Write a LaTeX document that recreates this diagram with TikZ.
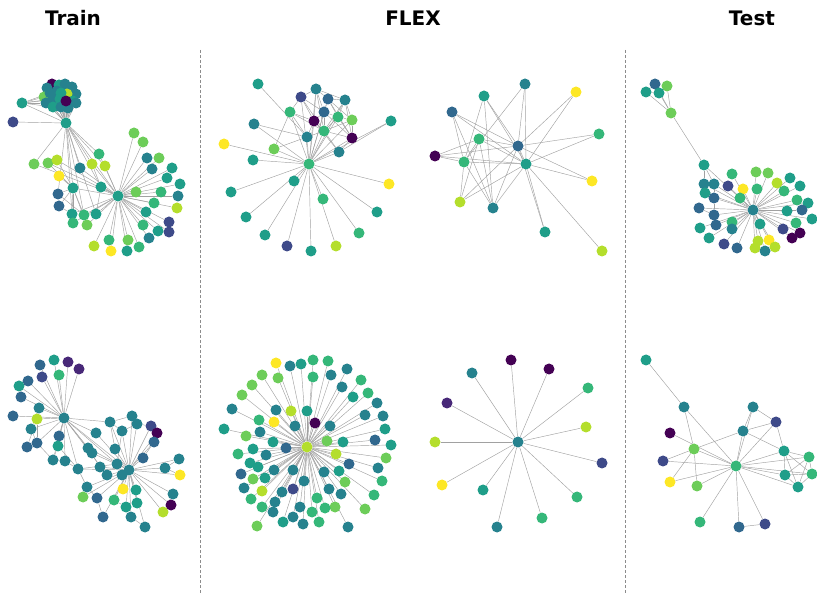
\documentclass[tikz,border=0pt]{standalone}
\usepackage{fontspec}
\setsansfont{DejaVu Sans}
\usepackage{tikz}
\usetikzlibrary{backgrounds}

%% viridis shades
\definecolor{vir0}{HTML}{440154}
\definecolor{vir1}{HTML}{482878}
\definecolor{vir2}{HTML}{3E4A89}
\definecolor{vir3}{HTML}{31688E}
\definecolor{vir4}{HTML}{26828E}
\definecolor{vir5}{HTML}{1F9E89}
\definecolor{vir6}{HTML}{35B779}
\definecolor{vir7}{HTML}{6DCD59}
\definecolor{vir8}{HTML}{B4DE2C}
\definecolor{vir9}{HTML}{FDE725}

\tikzset{
  gnode/.style={circle, fill=vir#1, draw=none,
                inner sep=0pt, minimum size=11pt},
  gedge/.style={draw=black!37, line width=0.45pt},
  title/.style={font=\sffamily\bfseries\fontsize{20}{24}\selectfont},
  divider/.style={draw=black!45, line width=0.8pt,
                  dash pattern=on 3pt off 2pt},
}

\begin{document}
\begin{tikzpicture}[x=1pt, y=-1pt]
    \useasboundingbox (0,0) rectangle (817,593);

    %% titles
    \node[title] (ttrain) at (73,18) {Train};
    \node[title] (tflex)  at (413,18) {FLEX};
    \node[title] (ttest)  at (752,18) {Test};

    %% dividers
    \draw[divider] (200,50) -- (200,593);
    \draw[divider] (625,50) -- (625,593);

    %% ---------- Train, top ----------
    \foreach \n/\x/\y/\c in {1/66/123/5, 2/118/196/5, 3/22/103/5, 4/13/122/2,
        5/52/84/0, 6/47/88/4, 7/59/85/5, 8/65/84/4, 9/72/87/4, 10/76/94/4,
        11/44/97/7, 12/67/94/8, 13/50/93/4, 14/57/91/4, 15/61/93/5,
        16/73/101/5, 17/46/103/4, 18/53/99/4, 19/60/99/5, 62/53/107/5,
        63/61/107/4, 64/68/108/4, 65/76/103/4, 66/66/101/0,
        20/134/133/7, 21/143/142/7, 22/99/154/6, 23/147/158/4, 24/159/158/7,
        25/172/168/5, 26/34/164/7, 27/48/163/7, 28/57/160/8, 29/92/164/8,
        30/105/166/8, 31/80/168/4, 32/152/169/4, 33/167/178/5, 34/180/184/5,
        35/59/176/9, 36/73/188/5, 37/101/187/5, 38/136/192/7, 39/161/192/6,
        40/178/196/4, 41/58/194/3, 42/59/206/3, 43/154/203/6, 44/177/208/8,
        45/72/214/5, 46/84/215/6, 47/96/214/5, 48/146/212/5, 49/73/223/6,
        50/87/225/7, 51/169/222/2, 52/143/225/6, 53/158/231/5, 54/169/232/2,
        55/149/238/4, 56/94/246/8, 57/109/240/6, 58/128/240/7, 59/111/251/9,
        60/127/251/5, 61/139/247/6}
      \node[gnode=\c] (trainT-\n) at (\x,\y) {};
    \begin{scope}[on background layer]
      \foreach \i in {5,...,19,62,63,64,65,66,2,3,4,26,22,29,30,31,36,37,41,45,46,47}
        \draw[gedge] (trainT-1) -- (trainT-\i);
      \foreach \i in {20,...,34,36,37,38,39,40,43,44,45,...,61}
        \draw[gedge] (trainT-2) -- (trainT-\i);
      \foreach \u/\w in {5/7, 6/8, 9/13, 10/14, 15/18, 19/12, 11/17, 5/16,
          7/15, 8/9, 3/11, 3/13, 3/17, 3/18, 3/62, 3/19, 6/16, 12/15, 9/18,
          62/65, 63/10, 64/6,
          36/41, 36/42, 36/45, 36/49, 36/50, 36/35, 36/28, 36/27, 36/46,
          37/29, 37/47, 41/46, 42/45}
        \draw[gedge] (trainT-\u) -- (trainT-\w);
    \end{scope}

    %% ---------- FLEX, top left ----------
    \foreach \n/\x/\y/\c in {1/309/164/6, 2/258/84/5, 3/316/89/4, 4/301/97/2,
        5/328/99/3, 6/345/100/4, 7/290/112/6, 8/324/112/3, 9/338/117/6,
        10/352/120/7, 11/314/121/0, 12/391/121/5, 13/254/124/4, 14/324/131/6,
        15/352/138/0, 16/307/137/4, 17/224/144/9, 18/274/149/7, 19/339/152/4,
        20/253/160/5, 21/294/181/5, 22/389/184/9, 23/231/192/5, 24/323/199/6,
        25/377/212/5, 26/246/217/5, 27/359/233/6, 28/265/235/5, 29/287/246/2,
        30/311/251/5, 31/336/246/8}
      \node[gnode=\c] (flexT-\n) at (\x,\y) {};
    \begin{scope}[on background layer]
      \foreach \i in {3,...,31}
        \draw[gedge] (flexT-1) -- (flexT-\i);
      \foreach \u/\w in {3/4, 3/5, 3/6, 3/8, 3/11, 4/7, 4/8, 4/11, 4/14,
          5/6, 5/8, 5/9, 5/10, 6/9, 6/10, 6/14, 7/11, 7/14, 7/16, 8/9, 8/11,
          8/14, 8/15, 9/10, 9/14, 9/15, 10/14, 10/15, 11/14, 11/16, 11/19,
          14/15, 14/16, 14/19, 15/19, 5/15, 6/15, 3/14, 7/18, 18/16, 13/16,
          12/19, 2/16}
        \draw[gedge] (flexT-\u) -- (flexT-\w);
    \end{scope}

    %% ---------- FLEX, top right ----------
    \foreach \n/\x/\y/\c in {1/526/164/5, 2/518/146/3, 3/525/84/4, 4/484/96/5,
        5/576/92/9, 6/452/112/3, 7/599/134/6, 8/479/139/6, 9/435/156/0,
        10/464/162/6, 11/592/181/9, 12/460/202/8, 13/493/208/4, 14/545/232/5,
        15/602/251/8}
      \node[gnode=\c] (flexS-\n) at (\x,\y) {};
    \begin{scope}[on background layer]
      \foreach \u/\w in {3/2, 3/1, 3/10, 4/2, 4/1, 4/10, 4/13, 5/2, 5/1,
          6/2, 6/1, 6/10, 6/13, 7/2, 7/1, 8/9, 8/1, 8/2, 8/12, 8/13, 8/10,
          9/2, 9/1, 9/10, 10/1, 10/12, 10/13, 1/11, 1/12, 1/13, 1/14, 1/15,
          2/11, 2/12, 2/13, 2/14, 1/2}
        \draw[gedge] (flexS-\u) -- (flexS-\w);
    \end{scope}

    %% ---------- Test, top ----------
    \foreach \n/\x/\y/\c in {1/753/210/4, 2/655/84/3, 3/667/86/7, 4/646/92/5,
        5/659/93/5, 6/671/113/7, 7/704/165/5, 8/732/174/6, 9/756/172/7,
        10/768/173/7, 11/790/178/5, 12/704/184/4, 13/714/184/4, 14/728/186/2,
        15/777/183/8, 16/800/186/5, 17/743/189/9, 18/757/189/6, 19/784/191/6,
        20/705/193/5, 21/740/198/6, 22/714/198/3, 23/797/200/6, 24/808/203/5,
        25/699/208/3, 26/787/211/5, 27/802/210/3, 28/812/219/5, 29/714/215/3,
        30/732/222/6, 31/760/224/5, 32/716/225/3, 33/796/223/6, 34/700/228/5,
        35/732/229/4, 36/783/229/2, 37/800/233/0, 38/792/238/0, 39/709/238/5,
        40/758/241/8, 41/769/240/9, 42/775/247/8, 43/755/248/8, 44/765/251/4,
        45/724/244/2, 46/737/248/3}
      \node[gnode=\c] (testT-\n) at (\x,\y) {};
    \begin{scope}[on background layer]
      \foreach \i in {7,...,46}
        \draw[gedge] (testT-1) -- (testT-\i);
      \foreach \u/\w in {2/3, 2/4, 2/5, 3/5, 4/5, 2/6, 3/6, 4/6, 5/6, 6/7,
          7/12, 7/13, 12/13, 12/20, 12/22, 13/22, 22/29, 25/29}
        \draw[gedge] (testT-\u) -- (testT-\w);
    \end{scope}

    %% ---------- Train, bottom ----------
    \foreach \n/\x/\y/\c in {1/64/418/4, 2/129/470/4, 3/54/360/5, 4/68/362/1,
        5/40/365/3, 6/79/369/1, 7/59/375/6, 8/42/377/2, 9/28/381/3,
        10/19/386/5, 11/21/397/3, 12/39/408/4, 13/13/416/3, 14/37/419/8,
        15/132/416/4, 16/110/422/4, 17/137/424/4, 18/151/426/2, 19/157/433/0,
        20/31/429/4, 21/122/431/4, 22/96/433/4, 23/59/436/3, 24/154/442/3,
        25/37/443/3, 26/27/447/3, 27/58/446/5, 28/88/448/4, 29/92/453/4,
        30/115/449/4, 31/143/458/3, 32/179/459/4, 33/53/460/4, 34/65/461/4,
        35/117/464/4, 36/78/469/4, 37/100/467/4, 38/165/468/4, 39/107/475/4,
        40/122/475/4, 41/180/475/9, 42/87/487/4, 43/123/489/9, 44/136/490/5,
        45/173/494/4, 46/83/497/7, 47/97/498/3, 48/114/500/6, 49/137/503/5,
        50/171/505/0, 51/126/507/5, 52/163/512/8, 53/103/517/3, 54/131/517/4,
        55/145/527/4}
      \node[gnode=\c] (trainB-\n) at (\x,\y) {};
    \begin{scope}[on background layer]
      \foreach \i in {3,...,14,20,22,23,25,27,28,29,16,36,33,34,2,35,39}
        \draw[gedge] (trainB-1) -- (trainB-\i);
      \foreach \i in {15,...,19,21,22,24,28,29,30,31,32,35,36,...,55}
        \draw[gedge] (trainB-2) -- (trainB-\i);
      \foreach \u/\w in {12/20, 12/14, 14/25, 20/25, 23/27, 27/33, 25/33,
          26/14, 15/16, 16/21, 17/18, 18/19, 17/21, 21/35, 24/31, 32/38,
          38/41, 36/42, 42/46, 42/47, 47/53, 48/51, 51/54, 54/55, 45/50,
          45/52, 36/35, 33/34, 34/36, 28/37, 27/36, 16/30, 19/24}
        \draw[gedge] (trainB-\u) -- (trainB-\w);
    \end{scope}

    %% ---------- FLEX, bottom left ----------
    \foreach \n/\x/\y/\c in {1/307/447/8, 2/276/363/9, 3/290/366/4,
        4/301/364/5, 5/313/360/6, 6/328/361/6, 7/262/375/7, 8/278/378/7,
        9/313/377/6, 10/331/375/4, 11/347/369/4, 12/252/385/7, 13/342/387/4,
        14/361/380/6, 15/242/395/7, 16/353/397/5, 17/368/393/6, 18/232/409/4,
        19/276/410/4, 20/291/411/8, 21/307/411/5, 22/377/403/4, 23/259/420/6,
        24/274/422/9, 25/315/423/0, 26/365/415/4, 27/383/416/4, 28/224/429/5,
        29/295/426/4, 30/330/426/4, 31/385/429/5, 32/246/436/7, 33/260/432/4,
        34/273/442/5, 35/327/441/7, 36/343/442/5, 37/375/440/3, 38/391/445/5,
        39/253/449/5, 40/286/448/3, 41/238/454/6, 42/266/455/4, 43/336/454/8,
        44/386/458/7, 45/250/463/5, 46/258/467/5, 47/349/464/3, 48/241/474/3,
        49/274/470/4, 50/293/470/4, 51/324/472/4, 52/339/471/5, 53/378/468/4,
        54/253/479/7, 55/265/478/5, 56/304/481/4, 57/345/482/7, 58/382/481/6,
        59/244/488/4, 60/262/491/8, 61/282/492/4, 62/293/489/2, 63/329/489/4,
        64/341/494/4, 65/374/495/6, 66/251/499/6, 67/275/502/4, 68/317/498/6,
        69/335/507/7, 70/365/509/7, 71/262/507/6, 72/273/512/4, 73/300/507/4,
        74/312/512/6, 75/325/508/6, 76/283/522/5, 77/293/517/4, 78/303/524/4,
        79/319/522/6, 80/257/526/7, 81/348/527/4}
      \node[gnode=\c] (flexB-\n) at (\x,\y) {};
    \begin{scope}[on background layer]
      \foreach \i in {2,...,81}
        \draw[gedge] (flexB-1) -- (flexB-\i);
    \end{scope}

    %% ---------- FLEX, bottom right ----------
    \foreach \n/\x/\y/\c in {1/518/442/4, 2/511/360/0, 3/549/369/0,
        4/472/373/4, 5/588/388/6, 6/447/403/1, 7/586/427/8, 8/435/442/8,
        9/602/463/2, 10/442/485/9, 11/483/490/5, 12/577/497/6, 13/542/518/6,
        14/497/527/4}
      \node[gnode=\c] (flexC-\n) at (\x,\y) {};
    \begin{scope}[on background layer]
      \foreach \i in {2,...,14}
        \draw[gedge] (flexC-1) -- (flexC-\i);
    \end{scope}

    %% ---------- Test, bottom ----------
    \foreach \n/\x/\y/\c in {1/736/466/6, 2/646/360/5, 3/684/407/4,
        4/753/407/4, 5/776/422/2, 6/743/431/4, 7/670/433/0, 8/694/449/7,
        9/784/451/5, 10/809/457/6, 11/663/461/2, 12/785/475/5, 13/812/474/6,
        14/670/482/9, 15/697/486/7, 16/798/487/5, 17/700/522/6, 18/739/527/3,
        19/765/524/2}
      \node[gnode=\c] (testB-\n) at (\x,\y) {};
    \begin{scope}[on background layer]
      \foreach \u/\w in {2/3, 3/8, 3/1, 4/5, 4/6, 4/1, 5/6, 5/1, 5/9, 6/8,
          6/1, 6/9, 7/1, 8/11, 8/14, 8/15, 8/1, 11/1, 14/1, 15/1, 1/9, 1/10,
          1/12, 1/13, 1/16, 1/17, 1/18, 1/19, 18/19, 9/10, 9/12, 9/16, 9/13,
          10/13, 10/16, 10/12, 12/13, 12/16, 13/16}
        \draw[gedge] (testB-\u) -- (testB-\w);
    \end{scope}
\end{tikzpicture}
\end{document}
